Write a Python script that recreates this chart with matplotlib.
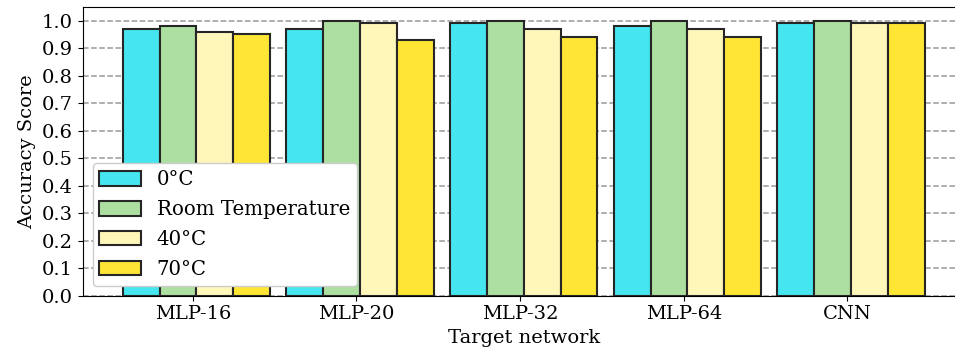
import numpy as np
import matplotlib.pyplot as plt

plt.rcParams['font.family'] = 'DejaVu Serif'
plt.rcParams['font.size'] = 14

networks = ['MLP-16', 'MLP-20', 'MLP-32', 'MLP-64', 'CNN']
conditions = ['0°C', 'Room Temperature', '40°C', '70°C']
acc_0c = [0.97, 0.97, 0.99, 0.98, 0.99]
acc_room = [0.98, 1.00, 1.00, 1.00, 1.00]
acc_40c = [0.96, 0.99, 0.97, 0.97, 0.99]
acc_70c = [0.95, 0.93, 0.94, 0.94, 0.99]
colors = ['#45E6F0', '#ADDFA1', '#FFF6B9', '#FFE634']

fig, ax = plt.subplots(figsize=(9.55, 3.61), dpi=100)
x = np.arange(len(networks))
w = 0.225
series = [acc_0c, acc_room, acc_40c, acc_70c]
for i, (vals, lab, c) in enumerate(zip(series, conditions, colors)):
    ax.bar(x + (i - 1.4) * w, vals, w, label=lab, color=c,
           edgecolor='#262626', linewidth=1.5, zorder=3)

ax.set_yticks(np.arange(0, 1.01, 0.1))
ax.set_ylim(0, 1.05)
ax.set_xticks(x)
ax.set_xticklabels(networks)
ax.yaxis.grid(True, linestyle='--', color='#999999', linewidth=1.1, zorder=0)
ax.set_axisbelow(True)
ax.set_xlabel('Target network')
ax.set_ylabel('Accuracy Score')
ax.legend(loc='lower left', fontsize=14.2, framealpha=1, labelspacing=0.55,
          handlelength=2.1, handleheight=0.77, borderpad=0.35)

# the original figure is cut off on the right, past the last bars
plt.subplots_adjust(left=0.0866, right=1.0103, top=0.9806, bottom=0.1814)
plt.savefig('out.png', dpi=100)
